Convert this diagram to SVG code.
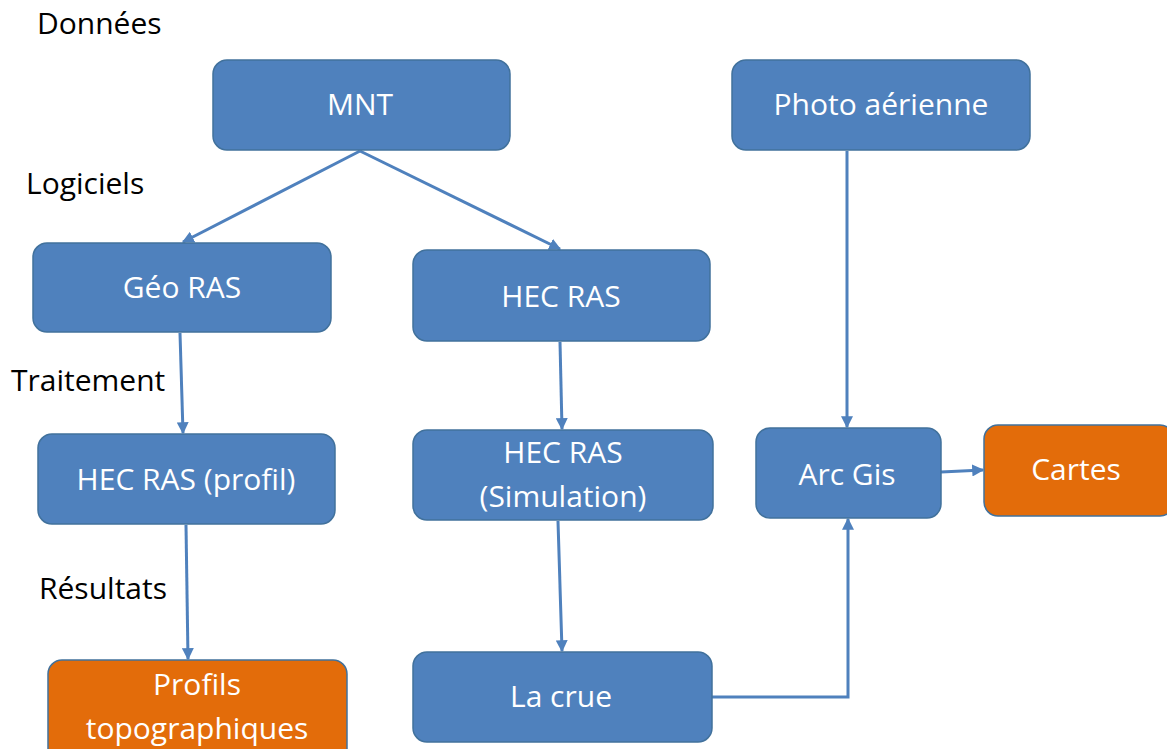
<svg xmlns="http://www.w3.org/2000/svg" width="1167" height="749" viewBox="0 0 1167 749">
<defs>
<marker id="ah" viewBox="0 0 10 10" refX="9" refY="5" markerWidth="4" markerHeight="4" markerUnits="strokeWidth" orient="auto">
<path d="M0,0 L10,5 L0,10 z" fill="#4F81BD"/>
</marker>
</defs>
<style>
.b{fill:#4F81BD;stroke:#41719C;stroke-width:1.5}
.o{fill:#E36C0A;stroke:#41719C;stroke-width:1.5}
.t{font-family:"Open Sans",Lato,sans-serif;font-size:30px;fill:#fff;text-anchor:middle;dominant-baseline:central}
.l{font-family:"Open Sans",Lato,sans-serif;font-size:30px;fill:#000}
.c{fill:none;stroke:#4F81BD;stroke-width:3}
</style>
<rect width="1167" height="749" fill="#fff"/>
<g id="labels">
<text class="l" x="37" y="34">Données</text>
<text class="l" x="26" y="194">Logiciels</text>
<text class="l" x="11" y="391">Traitement</text>
<text class="l" x="39" y="599">Résultats</text>
</g>
<g id="connectors">
<line class="c" x1="360" y1="151" x2="183" y2="242" marker-end="url(#ah)"/>
<line class="c" x1="360" y1="151" x2="560" y2="249" marker-end="url(#ah)"/>
<line class="c" x1="847" y1="151" x2="847" y2="427" marker-end="url(#ah)"/>
<line class="c" x1="941" y1="472" x2="983" y2="470" marker-end="url(#ah)"/>
<line class="c" x1="180" y1="333" x2="183" y2="433" marker-end="url(#ah)"/>
<line class="c" x1="560" y1="342" x2="562" y2="429" marker-end="url(#ah)"/>
<line class="c" x1="186" y1="525" x2="188" y2="659" marker-end="url(#ah)"/>
<line class="c" x1="558" y1="521" x2="562" y2="651" marker-end="url(#ah)"/>
<polyline class="c" points="712,697 848,697 848,519" marker-end="url(#ah)"/>
</g>
<g id="mnt"><rect class="b" x="213" y="60" width="297" height="90" rx="14"/><text class="t" x="360" y="103">MNT</text></g>
<g id="photo"><rect class="b" x="732" y="60" width="298" height="90" rx="14"/><text class="t" x="881" y="103">Photo aérienne</text></g>
<g id="georas"><rect class="b" x="33" y="243" width="298" height="89" rx="14"/><text class="t" x="182" y="286">Géo RAS</text></g>
<g id="hecras"><rect class="b" x="413" y="250" width="297" height="91" rx="14"/><text class="t" x="561" y="295">HEC RAS</text></g>
<g id="hecprofil"><rect class="b" x="38" y="434" width="297" height="90" rx="14"/><text class="t" x="186" y="478">HEC RAS (profil)</text></g>
<g id="hecsim"><rect class="b" x="413" y="430" width="300" height="90" rx="14"/><text class="t" x="563" y="451">HEC RAS</text><text class="t" x="563" y="495">(Simulation)</text></g>
<g id="arcgis"><rect class="b" x="756" y="428" width="185" height="90" rx="14"/><text class="t" x="847" y="473">Arc Gis</text></g>
<g id="cartes"><rect class="o" x="984" y="425" width="190" height="91" rx="14"/><text class="t" x="1076" y="468">Cartes</text></g>
<g id="profils"><rect class="o" x="48" y="660" width="299" height="110" rx="14"/><text class="t" x="197" y="683">Profils</text><text class="t" x="197" y="727">topographiques</text></g>
<g id="lacrue"><rect class="b" x="413" y="652" width="299" height="90" rx="14"/><text class="t" x="561" y="695">La crue</text></g>
</svg>
